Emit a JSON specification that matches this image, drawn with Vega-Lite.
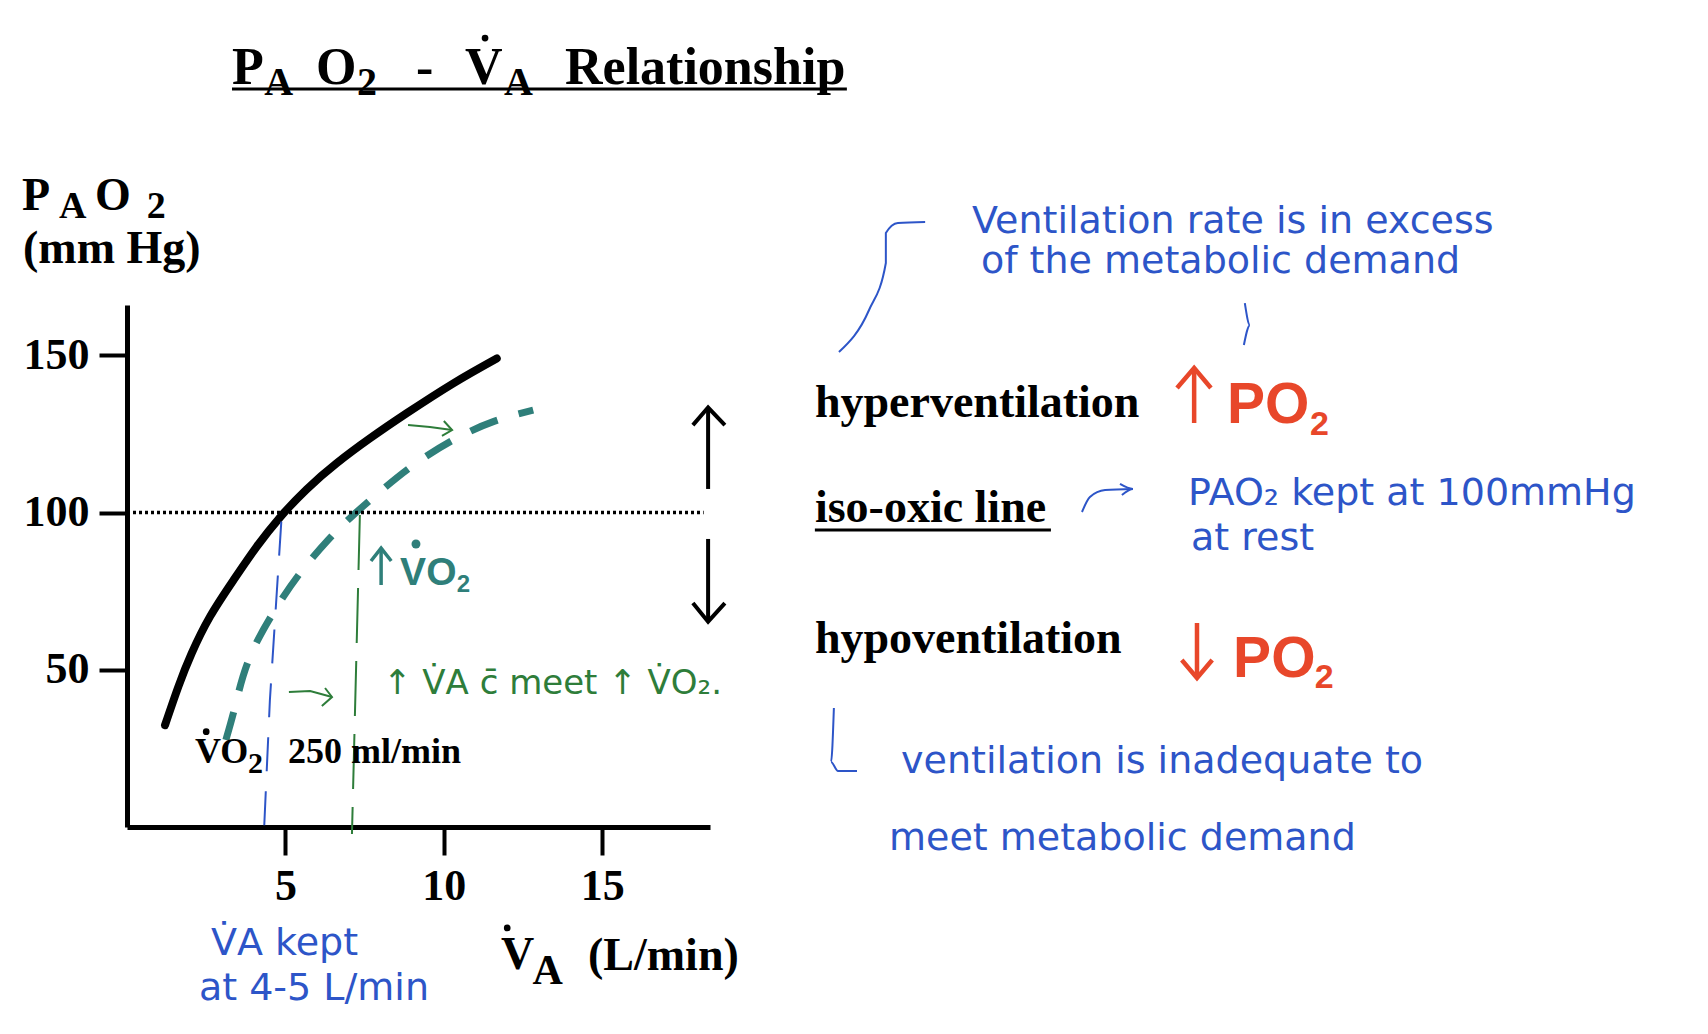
{
  "$schema": "https://vega.github.io/schema/vega-lite/v6.json",
  "width": 583,
  "height": 522,
  "autosize": {"type": "none"},
  "padding": {"left": 127, "top": 305, "right": 998, "bottom": 207},
  "background": "white",
  "config": {"view": {"stroke": null}},
  "encoding": {
    "x": {"field": "x", "type": "quantitative",
      "scale": {"domain": [0, 18.4], "nice": false, "zero": false},
      "axis": {"values": [5, 10, 15], "title": null, "grid": false, "tickSize": 28, "tickWidth": 4, "tickColor": "black",
        "domainColor": "black", "domainWidth": 5, "labelFont": "Liberation Serif", "labelFontWeight": "bold",
        "labelFontSize": 44, "labelColor": "black", "labelPadding": 9, "labelFlush": false, "labelOverlap": false}},
    "y": {"field": "y", "type": "quantitative",
      "scale": {"domain": [0, 166], "nice": false, "zero": false},
      "axis": {"values": [50, 100, 150], "title": null, "grid": false, "tickSize": 28, "tickWidth": 4, "tickColor": "black",
        "domainColor": "black", "domainWidth": 5, "labelFont": "Liberation Serif", "labelFontWeight": "bold",
        "labelFontSize": 44, "labelColor": "black", "labelPadding": 10, "labelFlush": false, "labelOverlap": false}}
  },
  "layer": [
    {
      "data": {"values": [
        {"x": 1.20, "y": 32.4}, {"x": 1.62, "y": 44.6}, {"x": 2.04, "y": 55.2}, {"x": 2.62, "y": 66.9},
        {"x": 3.36, "y": 78.5}, {"x": 4.09, "y": 89.1}, {"x": 4.83, "y": 98.5}, {"x": 5.67, "y": 107.4},
        {"x": 6.62, "y": 115.7}, {"x": 7.67, "y": 123.6}, {"x": 8.83, "y": 131.6}, {"x": 10.3, "y": 141.1},
        {"x": 11.67, "y": 149.0}
      ]},
      "mark": {"type": "line", "color": "black", "strokeWidth": 8, "strokeCap": "round", "interpolate": "natural"}
    },
    {
      "data": {"values": [
        {"x": 3.12, "y": 27.7}, {"x": 3.41, "y": 38.3}, {"x": 3.86, "y": 53.6}, {"x": 4.67, "y": 69.0},
        {"x": 5.46, "y": 80.7}, {"x": 6.35, "y": 91.3}, {"x": 7.14, "y": 99.2}, {"x": 7.98, "y": 106.6},
        {"x": 9.04, "y": 115.1}, {"x": 10.3, "y": 123.1}, {"x": 11.56, "y": 128.9}, {"x": 12.82, "y": 132.6}
      ]},
      "mark": {"type": "line", "color": "#2f7f7a", "strokeWidth": 7, "strokeDash": [29, 22], "interpolate": "natural"}
    },
    {
      "data": {"values": [{"x": 0, "y": 100}, {"x": 18.2, "y": 100}]},
      "mark": {"type": "line", "color": "black", "strokeWidth": 3.5, "strokeDash": [3, 3]}
    },
    {
      "data": {"values": [
        {"id": "blueV", "o": 1, "x": 4.87, "y": 97.1}, {"id": "blueV", "o": 2, "x": 4.51, "y": 40.4}, {"id": "blueV", "o": 3, "x": 4.32, "y": -2.2}
      ]},
      "mark": {"type": "line", "color": "#2d55c8", "strokeWidth": 2, "strokeDash": [34, 20]},
      "encoding": {"detail": {"field": "id"}, "order": {"field": "o"}}
    },
    {
      "data": {"values": [
        {"id": "greenV", "o": 1, "x": 7.35, "y": 99.2}, {"id": "greenV", "o": 2, "x": 7.10, "y": -2.2}
      ]},
      "mark": {"type": "line", "color": "#2e7d3a", "strokeWidth": 2, "strokeDash": [55, 18]},
      "encoding": {"detail": {"field": "id"}, "order": {"field": "o"}}
    },
    {
      "data": {"values": [
        {"id": "u", "o": 1, "x": 18.34, "y": 107.5}, {"id": "u", "o": 2, "x": 18.34, "y": 133.2},
        {"id": "uh", "o": 1, "x": 17.86, "y": 127.8}, {"id": "uh", "o": 2, "x": 18.34, "y": 133.4}, {"id": "uh", "o": 3, "x": 18.87, "y": 127.8},
        {"id": "d", "o": 1, "x": 18.34, "y": 91.6}, {"id": "d", "o": 2, "x": 18.34, "y": 65.5},
        {"id": "dh", "o": 1, "x": 17.86, "y": 71.2}, {"id": "dh", "o": 2, "x": 18.34, "y": 65.3}, {"id": "dh", "o": 3, "x": 18.87, "y": 71.2}
      ]},
      "mark": {"type": "line", "color": "black", "strokeWidth": 4},
      "encoding": {"detail": {"field": "id"}, "order": {"field": "o"}}
    },
    {
      "data": {"values": [
        {"id": "ru", "o": 1, "x": 33.68, "y": 128.47}, {"id": "ru", "o": 2, "x": 33.68, "y": 145.96},
        {"id": "ruh", "o": 1, "x": 33.14, "y": 139.6}, {"id": "ruh", "o": 2, "x": 33.68, "y": 145.96}, {"id": "ruh", "o": 3, "x": 34.21, "y": 139.6},
        {"id": "rd", "o": 1, "x": 33.77, "y": 64.87}, {"id": "rd", "o": 2, "x": 33.77, "y": 47.38},
        {"id": "rdh", "o": 1, "x": 33.29, "y": 53.1}, {"id": "rdh", "o": 2, "x": 33.77, "y": 47.38}, {"id": "rdh", "o": 3, "x": 34.25, "y": 53.1}
      ]},
      "mark": {"type": "line", "color": "#e8472a", "strokeWidth": 4.5, "strokeJoin": "miter"},
      "encoding": {"detail": {"field": "id"}, "order": {"field": "o"}}
    },
    {
      "data": {"values": [
        {"id": "tu", "o": 1, "x": 8.02, "y": 76.96}, {"id": "tu", "o": 2, "x": 8.02, "y": 88.7},
        {"id": "tuh", "o": 1, "x": 7.70, "y": 84.6}, {"id": "tuh", "o": 2, "x": 8.02, "y": 88.7}, {"id": "tuh", "o": 3, "x": 8.34, "y": 84.6}
      ]},
      "mark": {"type": "line", "color": "#2f7f7a", "strokeWidth": 3.5, "strokeJoin": "miter"},
      "encoding": {"detail": {"field": "id"}, "order": {"field": "o"}}
    },
    {
      "data": {"values": [
        {"id": "title", "o": 1, "x": 3.314, "y": 234.7}, {"id": "title", "o": 2, "x": 22.72, "y": 234.7},
        {"id": "iso", "o": 1, "x": 21.71, "y": 94.45}, {"id": "iso", "o": 2, "x": 29.16, "y": 94.45}
      ]},
      "mark": {"type": "line", "color": "black", "strokeWidth": 3},
      "encoding": {"detail": {"field": "id"}, "order": {"field": "o"}}
    },
    {
      "data": {"values": [
        {"id": "c1", "o": 1, "x": 22.47, "y": 151.05}, {"id": "c1", "o": 2, "x": 23.42, "y": 164.41},
        {"id": "c1", "o": 3, "x": 23.95, "y": 179.36}, {"id": "c1", "o": 4, "x": 23.95, "y": 188.9},
        {"id": "c1", "o": 5, "x": 24.33, "y": 192.1}, {"id": "c1", "o": 6, "x": 25.19, "y": 192.4},
        {"id": "c2", "o": 1, "x": 30.14, "y": 100.17}, {"id": "c2", "o": 2, "x": 30.39, "y": 104.94},
        {"id": "c2", "o": 3, "x": 30.87, "y": 107.17}, {"id": "c2", "o": 4, "x": 31.75, "y": 107.49},
        {"id": "c2h", "o": 1, "x": 31.34, "y": 109.08}, {"id": "c2h", "o": 2, "x": 31.75, "y": 107.49}, {"id": "c2h", "o": 3, "x": 31.40, "y": 105.58},
        {"id": "c3", "o": 1, "x": 22.31, "y": 37.84}, {"id": "c3", "o": 2, "x": 22.22, "y": 20.67},
        {"id": "c3", "o": 3, "x": 22.44, "y": 17.81}, {"id": "c3", "o": 4, "x": 23.04, "y": 17.81},
        {"id": "c4", "o": 1, "x": 35.28, "y": 166.6}, {"id": "c4", "o": 2, "x": 35.44, "y": 159.6}, {"id": "c4", "o": 3, "x": 35.25, "y": 153.3}
      ]},
      "mark": {"type": "line", "color": "#2d55c8", "strokeWidth": 2, "interpolate": "monotone"},
      "encoding": {"detail": {"field": "id"}, "order": {"field": "o"}}
    },
    {
      "data": {"values": [
        {"id": "g1", "o": 1, "x": 5.11, "y": 42.93}, {"id": "g1", "o": 2, "x": 5.78, "y": 43.25}, {"id": "g1", "o": 3, "x": 6.47, "y": 41.34},
        {"id": "g1h", "o": 1, "x": 6.25, "y": 44.2}, {"id": "g1h", "o": 2, "x": 6.47, "y": 41.34}, {"id": "g1h", "o": 3, "x": 6.15, "y": 38.48},
        {"id": "g2", "o": 1, "x": 8.87, "y": 127.84}, {"id": "g2", "o": 2, "x": 9.56, "y": 127.2}, {"id": "g2", "o": 3, "x": 10.26, "y": 126.25},
        {"id": "g2h", "o": 1, "x": 10.0, "y": 129.1}, {"id": "g2h", "o": 2, "x": 10.26, "y": 126.25}, {"id": "g2h", "o": 3, "x": 9.94, "y": 124.4}
      ]},
      "mark": {"type": "line", "color": "#2e7d3a", "strokeWidth": 2},
      "encoding": {"detail": {"field": "id"}, "order": {"field": "o"}}
    },
    {
      "data": {"values": [
        {"x": 11.3, "y": 250.9}, {"x": 2.5, "y": 30.3}, {"x": 12.0, "y": -32.1}
      ]},
      "mark": {"type": "point", "filled": true, "color": "black", "size": 45, "opacity": 1}
    },
    {
      "data": {"values": [{"x": 9.12, "y": 90.0}]},
      "mark": {"type": "point", "filled": true, "color": "#2f7f7a", "size": 80, "opacity": 1}
    },
    {
      "data": {"values": [
        {"x": 3.314, "y": 236.3, "t": "P"}, {"x": 5.965, "y": 236.3, "t": "O"}, {"x": 9.121, "y": 236.3, "t": "-"},
        {"x": 10.668, "y": 236.3, "t": "V"}, {"x": 13.824, "y": 236.3, "t": "Relationship"}
      ]},
      "mark": {"type": "text", "font": "Liberation Serif", "fontWeight": "bold", "fontSize": 52, "color": "black", "align": "left", "baseline": "alphabetic"},
      "encoding": {"text": {"field": "t"}}
    },
    {
      "data": {"values": [
        {"x": 4.33, "y": 232.8, "t": "A"}, {"x": 7.26, "y": 232.8, "t": "2"}, {"x": 11.9, "y": 232.8, "t": "A"}
      ]},
      "mark": {"type": "text", "font": "Liberation Serif", "fontWeight": "bold", "fontSize": 40, "color": "black", "align": "left", "baseline": "alphabetic"},
      "encoding": {"text": {"field": "t"}}
    },
    {
      "data": {"values": [
        {"x": -3.314, "y": 196.2, "t": "P"}, {"x": -1.01, "y": 196.2, "t": "O"}, {"x": -3.282, "y": 179.35, "t": "(mm Hg)"},
        {"x": 11.8, "y": -45.2, "t": "V"}, {"x": 14.55, "y": -45.5, "t": "(L/min)"},
        {"x": 21.71, "y": 130.4, "t": "hyperventilation"}, {"x": 21.71, "y": 97.0, "t": "iso-oxic line"},
        {"x": 21.71, "y": 55.3, "t": "hypoventilation"}
      ]},
      "mark": {"type": "text", "font": "Liberation Serif", "fontWeight": "bold", "fontSize": 46, "color": "black", "align": "left", "baseline": "alphabetic"},
      "encoding": {"text": {"field": "t"}}
    },
    {
      "data": {"values": [
        {"x": -2.15, "y": 193.67, "t": "A"}, {"x": 0.62, "y": 193.67, "t": "2"}
      ]},
      "mark": {"type": "text", "font": "Liberation Serif", "fontWeight": "bold", "fontSize": 38, "color": "black", "align": "left", "baseline": "alphabetic"},
      "encoding": {"text": {"field": "t"}}
    },
    {
      "data": {"values": [{"x": 12.8, "y": -49.9, "t": "A"}]},
      "mark": {"type": "text", "font": "Liberation Serif", "fontWeight": "bold", "fontSize": 42, "color": "black", "align": "left", "baseline": "alphabetic"},
      "encoding": {"text": {"field": "t"}}
    },
    {
      "data": {"values": [
        {"x": 2.146, "y": 20.35, "t": "VO"}, {"x": 5.081, "y": 20.35, "t": "250 ml/min"}
      ]},
      "mark": {"type": "text", "font": "Liberation Serif", "fontWeight": "bold", "fontSize": 36, "color": "black", "align": "left", "baseline": "alphabetic"},
      "encoding": {"text": {"field": "t"}}
    },
    {
      "data": {"values": [{"x": 3.82, "y": 17.17, "t": "2"}]},
      "mark": {"type": "text", "font": "Liberation Serif", "fontWeight": "bold", "fontSize": 30, "color": "black", "align": "left", "baseline": "alphabetic"},
      "encoding": {"text": {"field": "t"}}
    },
    {
      "data": {"values": [{"x": 8.62, "y": 76.96, "t": "VO"}]},
      "mark": {"type": "text", "font": "Liberation Sans", "fontWeight": "bold", "fontSize": 39, "color": "#2f7f7a", "align": "left", "baseline": "alphabetic"},
      "encoding": {"text": {"field": "t"}}
    },
    {
      "data": {"values": [{"x": 10.41, "y": 74.73, "t": "2"}]},
      "mark": {"type": "text", "font": "Liberation Sans", "fontWeight": "bold", "fontSize": 24, "color": "#2f7f7a", "align": "left", "baseline": "alphabetic"},
      "encoding": {"text": {"field": "t"}}
    },
    {
      "data": {"values": [{"x": 34.72, "y": 128.5, "t": "PO"}, {"x": 34.91, "y": 47.7, "t": "PO"}]},
      "mark": {"type": "text", "font": "Liberation Sans", "fontWeight": "bold", "fontSize": 57, "color": "#e8472a", "align": "left", "baseline": "alphabetic"},
      "encoding": {"text": {"field": "t"}}
    },
    {
      "data": {"values": [{"x": 37.34, "y": 124.66, "t": "2"}, {"x": 37.49, "y": 44.2, "t": "2"}]},
      "mark": {"type": "text", "font": "Liberation Sans", "fontWeight": "bold", "fontSize": 34, "color": "#e8472a", "align": "left", "baseline": "alphabetic"},
      "encoding": {"text": {"field": "t"}}
    },
    {
      "data": {"values": [
        {"x": 26.67, "y": 188.9, "t": "Ventilation rate is in excess"},
        {"x": 26.95, "y": 176.2, "t": "of the metabolic demand"},
        {"x": 33.49, "y": 102.4, "t": "PAO₂ kept at 100mmHg"},
        {"x": 33.58, "y": 88.1, "t": "at rest"},
        {"x": 24.43, "y": 17.17, "t": "ventilation is inadequate to"},
        {"x": 24.05, "y": -7.31, "t": "meet metabolic demand"},
        {"x": 2.65, "y": -40.7, "t": "V̇A kept"},
        {"x": 2.27, "y": -55.0, "t": "at 4-5 L/min"}
      ]},
      "mark": {"type": "text", "font": "DejaVu Sans", "fontSize": 38, "color": "#2d55c8", "align": "left", "baseline": "alphabetic"},
      "encoding": {"text": {"field": "t"}}
    },
    {
      "data": {"values": [{"x": 8.08, "y": 42.3, "t": "↑ V̇A c̄ meet ↑ V̇O₂."}]},
      "mark": {"type": "text", "font": "DejaVu Sans", "fontSize": 34, "color": "#2e7d3a", "align": "left", "baseline": "alphabetic"},
      "encoding": {"text": {"field": "t"}}
    }
  ]
}
